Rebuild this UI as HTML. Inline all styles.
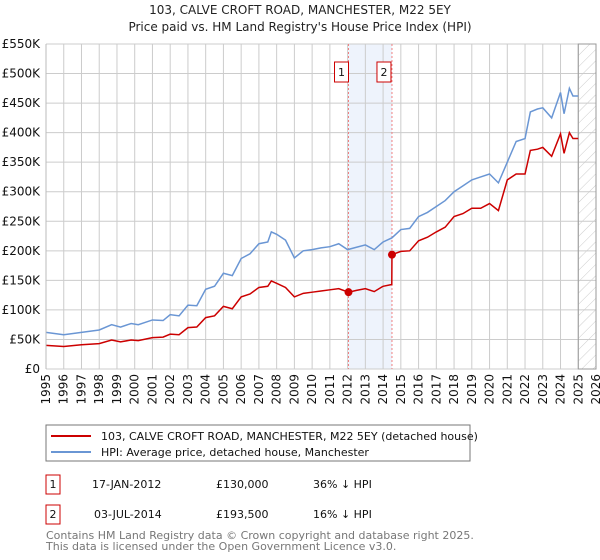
<!DOCTYPE html>
<html><head><meta charset="utf-8"><style>
body{margin:0;background:#fff;font-family:"DejaVu Sans","Liberation Sans",sans-serif;}
svg{display:block}
</style></head><body>
<svg id="c" width="600" height="560" xmlns="http://www.w3.org/2000/svg" font-family="DejaVu Sans, Liberation Sans, sans-serif">
<defs><pattern id="hatch" width="8" height="8" patternUnits="userSpaceOnUse" patternTransform="rotate(45)"><line x1="0" y1="0" x2="0" y2="8" stroke="#ccc" stroke-width="1"/></pattern></defs>
<text x="300" y="14" text-anchor="middle" font-size="12" fill="#222">103, CALVE CROFT ROAD, MANCHESTER, M22 5EY</text>
<text x="300" y="31" text-anchor="middle" font-size="12" fill="#222">Price paid vs. HM Land Registry's House Price Index (HPI)</text>
<g id="grid"></g><g id="marks"></g><g id="axes"></g>
<rect x="46" y="425" width="424" height="36" fill="#fff" stroke="#777"/>
<line x1="51" y1="436" x2="91" y2="436" stroke="#cc0000" stroke-width="2"/>
<text x="101" y="440" font-size="11" fill="#111">103, CALVE CROFT ROAD, MANCHESTER, M22 5EY (detached house)</text>
<line x1="51" y1="452" x2="91" y2="452" stroke="#6a96d4" stroke-width="2"/>
<text x="101" y="456" font-size="11" fill="#111">HPI: Average price, detached house, Manchester</text>
<g font-size="11" fill="#111">
<rect x="46" y="475" width="14" height="19" fill="none" stroke="#cc0000"/>
<text x="53" y="488" text-anchor="middle">1</text>
<text x="92" y="488">17-JAN-2012</text>
<text x="216" y="488">£130,000</text>
<text x="313" y="488">36% ↓ HPI</text>
<rect x="46" y="505" width="14" height="19" fill="none" stroke="#cc0000"/>
<text x="53" y="518" text-anchor="middle">2</text>
<text x="94" y="518">03-JUL-2014</text>
<text x="216" y="518">£193,500</text>
<text x="313" y="518">16% ↓ HPI</text>
</g>
<text x="46" y="539" font-size="11" fill="#777">Contains HM Land Registry data © Crown copyright and database right 2025.</text>
<text x="46" y="550" font-size="11" fill="#777">This data is licensed under the Open Government Licence v3.0.</text>
</svg>
<script>
const yTicks=[0,50,100,150,200,250,300,350,400,450,500,550];
const yTickLabels=["£0","£50K","£100K","£150K","£200K","£250K","£300K","£350K","£400K","£450K","£500K","£550K"];
const years=[1995,1996,1997,1998,1999,2000,2001,2002,2003,2004,2005,2006,2007,2008,2009,2010,2011,2012,2013,2014,2015,2016,2017,2018,2019,2020,2021,2022,2023,2024,2025,2026];
const hpiT=[1995,1996,1997,1998,1998.7,1999.2,1999.8,2000.2,2001,2001.6,2002,2002.5,2003,2003.5,2004,2004.5,2005,2005.5,2006,2006.5,2007,2007.5,2007.7,2008,2008.5,2009,2009.5,2010,2010.5,2011,2011.5,2012,2012.5,2013,2013.5,2014,2014.5,2015,2015.5,2016,2016.5,2017,2017.5,2018,2018.5,2019,2019.5,2020,2020.5,2021,2021.5,2022,2022.3,2022.7,2023,2023.5,2024,2024.2,2024.5,2024.7,2025];
const hpiV=[62,58,62,66,75,71,77,75,83,82,92,90,108,107,135,140,162,158,187,195,212,215,232,228,218,188,200,202,205,207,212,202,206,210,202,215,222,236,238,258,265,275,285,300,310,320,325,330,315,350,385,390,435,440,442,425,468,432,475,462,462];
const saleT=[2012.05,2014.5];
const saleV=[130,193.5];
const redT=[1995,1996,1997,1998,1998.7,1999.2,1999.8,2000.2,2001,2001.6,2002,2002.5,2003,2003.5,2004,2004.5,2005,2005.5,2006,2006.5,2007,2007.5,2007.7,2008,2008.5,2009,2009.5,2010,2010.5,2011,2011.5,2012.05,2012.5,2013,2013.5,2014,2014.49,2014.5,2015,2015.5,2016,2016.5,2017,2017.5,2018,2018.5,2019,2019.5,2020,2020.5,2021,2021.5,2022,2022.3,2022.7,2023,2023.5,2024,2024.2,2024.5,2024.7,2025];
const redV=[40,38,41,43,49,46,49,48,53,54,59,58,70,71,87,90,106,102,122,127,138,140,149,145,138,122,128,130,132,134,136,130,133,136,131,140,143,193.5,199,200,217,223,232,240,258,263,272,272,280,268,320,330,330,370,372,375,360,398,365,400,390,390];
const X0=46,X1=596,Y0=369,YT=44;
const x=t=>X0+(t-1995)*(X1-X0)/31;
const y=v=>Y0-v*(Y0-YT)/550;
const NS="http://www.w3.org/2000/svg";
function mk(tag,attrs,parent){const e=document.createElementNS(NS,tag);for(const k in attrs)e.setAttribute(k,attrs[k]);parent.appendChild(e);return e;}
const grid=document.getElementById('grid'),marks=document.getElementById('marks'),axes=document.getElementById('axes');
let shade=mk('rect',{x:x(saleT[0]),y:YT,width:x(saleT[1])-x(saleT[0]),height:Y0-YT,fill:'#eef3fc'},grid);


years.forEach(t=>{const l=mk('line',{x1:x(t),x2:x(t),y1:YT,y2:Y0,stroke:'#ccc'},grid);


const tx=mk('text',{x:0,y:0,'font-size':12,fill:'#111','text-anchor':'end',transform:`translate(${x(t)+4},${Y0+5}) rotate(-90)`},axes);tx.textContent=t;

});
yTicks.forEach((v,i)=>{const l=mk('line',{x1:X0,x2:X1,y1:y(v),y2:y(v),stroke:'#ccc'},grid);


const tx=mk('text',{x:X0-6,y:y(v)+4,'font-size':12,fill:'#111','text-anchor':'end'},axes);tx.textContent=yTickLabels[i];

});
let h=mk('rect',{x:x(2025),y:YT,width:X1-x(2025),height:Y0-YT,fill:'url(#hatch)',stroke:'#999'},grid);


let ax=mk('line',{x1:X0,x2:X0,y1:YT,y2:Y0,stroke:'#bbb'},axes);


saleT.forEach((t,i)=>{const l=mk('line',{x1:x(t),x2:x(t),y1:YT,y2:Y0,stroke:'#f08080','stroke-dasharray':'2,2'},marks);


const r=mk('rect',{x:x(t)-14+(i?-1:0),y:62,width:14,height:20,fill:'#fff',stroke:'#cc0000'},marks);


const tx=mk('text',{x:x(t)-7+(i?-1:0),y:76,'font-size':11,'text-anchor':'middle',fill:'#111'},marks);tx.textContent=i+1;

});
let hp=mk('polyline',{points:hpiT.map((t,i)=>x(t)+','+y(hpiV[i])).join(' '),fill:'none',stroke:'#6a96d4','stroke-width':1.5},marks);


let rd=mk('polyline',{points:redT.map((t,i)=>x(t)+','+y(redV[i])).join(' '),fill:'none',stroke:'#cc0000','stroke-width':1.5},marks);


saleT.forEach((t,i)=>{const c=mk('circle',{cx:x(t),cy:y(saleV[i]),r:4,fill:'#cc0000'},marks);

});
</script>
</body></html>
